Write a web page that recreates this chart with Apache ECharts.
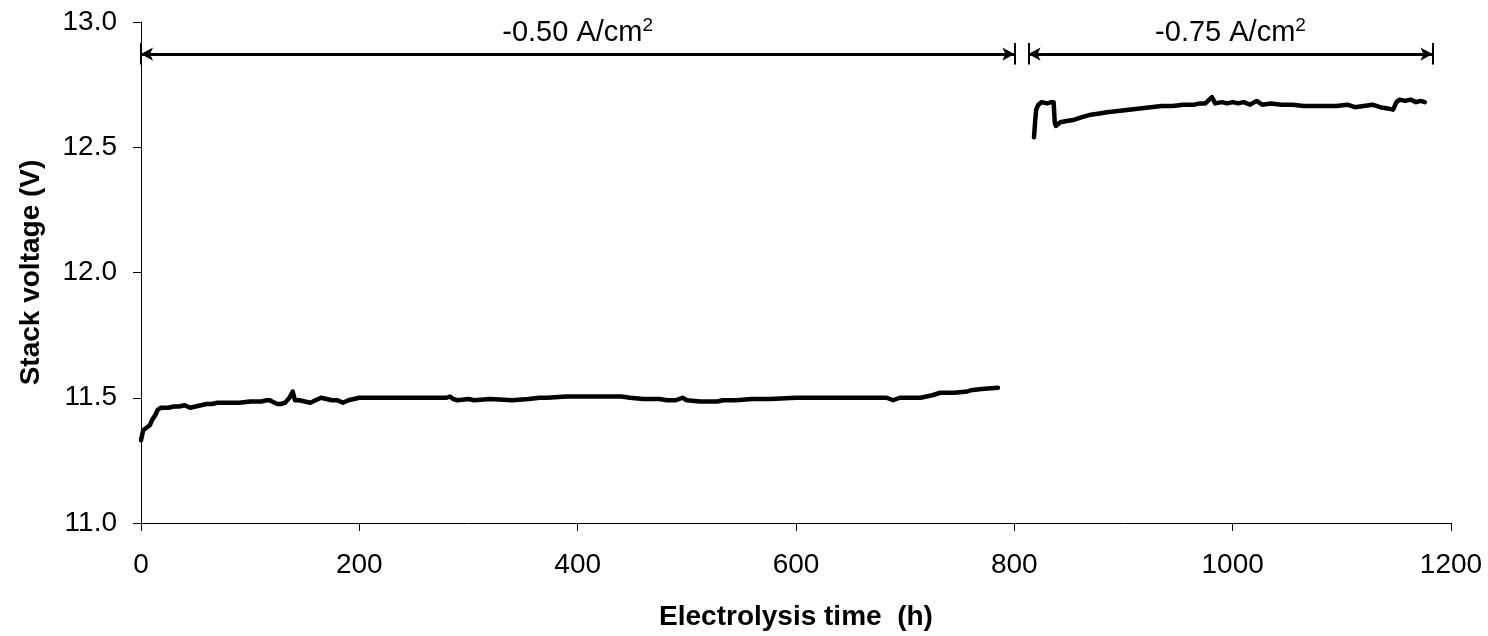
<!DOCTYPE html>
<html><head><meta charset="utf-8">
<script src="https://cdn.jsdelivr.net/npm/echarts@6/dist/echarts.min.js"></script>
<style>html,body{margin:0;padding:0;background:#fff}#c{width:1488px;height:636px}</style>
</head><body><div id="c"></div>
<script>
const time1 = [0,1,2,3,5,8,10,13,15,18,20,25,30,35,40,45,50,55,60,65,70,80,90,100,110,115,118,120,125,128,132,136,139,141,145,150,155,160,165,170,175,180,185,190,195,200,210,220,240,260,280,283,286,290,300,305,320,340,355,365,372,390,410,412,440,448,460,475,482,490,496,500,512,520,528,533,545,560,576,600,620,640,660,683,689,695,714,725,732,745,757,760,770,785];
const volt1 = [11.33,11.35,11.37,11.37,11.38,11.39,11.41,11.43,11.45,11.46,11.46,11.46,11.465,11.465,11.47,11.46,11.465,11.47,11.475,11.475,11.48,11.48,11.48,11.485,11.485,11.49,11.49,11.485,11.475,11.475,11.48,11.50,11.525,11.49,11.49,11.485,11.48,11.49,11.50,11.495,11.49,11.49,11.48,11.49,11.495,11.50,11.50,11.50,11.50,11.50,11.50,11.505,11.495,11.49,11.495,11.49,11.495,11.49,11.495,11.50,11.50,11.505,11.505,11.505,11.505,11.50,11.495,11.495,11.49,11.49,11.50,11.49,11.485,11.485,11.485,11.49,11.49,11.495,11.495,11.50,11.50,11.50,11.50,11.50,11.49,11.50,11.50,11.51,11.52,11.52,11.525,11.53,11.535,11.54];
const time2 = [818,819,820,822,825,830,834,836,837,838,842,848,855,862,870,878,885,895,905,915,925,935,945,955,965,970,975,981,984,990,995,1000,1005,1010,1016,1022,1027,1035,1045,1055,1065,1075,1085,1095,1105,1112,1120,1128,1135,1142,1147,1150,1153,1158,1163,1168,1172,1176];
const volt2 = [12.54,12.60,12.65,12.67,12.68,12.675,12.68,12.68,12.60,12.585,12.60,12.605,12.61,12.62,12.63,12.635,12.64,12.645,12.65,12.655,12.66,12.665,12.665,12.67,12.67,12.675,12.675,12.70,12.675,12.68,12.675,12.68,12.675,12.68,12.67,12.685,12.67,12.675,12.67,12.67,12.665,12.665,12.665,12.665,12.67,12.66,12.665,12.67,12.66,12.655,12.65,12.68,12.69,12.685,12.69,12.68,12.685,12.68];
const xTicks = {min: 0, max: 1200, interval: 200};
const yTicks = {min: 11, max: 13, interval: 0.5};
const periods = [{from: 0, to: 800, label: '-0.50 A/cm'}, {from: 813, to: 1183, label: '-0.75 A/cm'}];
const arrowY = 12.872, barTop = 12.916, barBot = 12.83, labelY = 12.955;

const zip = (a, b) => a.map((t, i) => [t, b[i]]);
const lineStyle = {color: '#000', width: 4.5, cap: 'round', join: 'round'};
const markLineData = [];
periods.forEach(p => {
  markLineData.push([{coord: [p.from, arrowY], symbol: 'arrow'}, {coord: [p.to, arrowY], symbol: 'arrow'}]);
  markLineData.push([{coord: [p.from, barTop], symbol: 'none', lineStyle: {width: 2}}, {coord: [p.from, barBot], symbol: 'none'}]);
  markLineData.push([{coord: [p.to, barTop], symbol: 'none', lineStyle: {width: 2}}, {coord: [p.to, barBot], symbol: 'none'}]);
});
const markPointData = periods.map(p => ({coord: [(p.from + p.to) / 2, labelY], value: p.label}));
const FONT = 'Liberation Sans';

const chart = echarts.init(document.getElementById('c'), null, {renderer: 'canvas'});
chart.setOption({
  animation: false,
  backgroundColor: '#fff',
  grid: {left: 141, right: 37, top: 22, bottom: 113},
  xAxis: {
    type: 'value', min: xTicks.min, max: xTicks.max, interval: xTicks.interval,
    name: 'Electrolysis time  (h)', nameLocation: 'middle', nameGap: 80,
    nameTextStyle: {fontFamily: FONT, fontSize: 28, fontWeight: 'bold', color: '#000'},
    axisLine: {lineStyle: {color: '#000', width: 1}},
    axisTick: {show: true, inside: false, length: 8, lineStyle: {color: '#000'}},
    axisLabel: {fontFamily: FONT, fontSize: 28, color: '#000', margin: 28, formatter: v => String(v)},
    splitLine: {show: false}
  },
  yAxis: {
    type: 'value', min: yTicks.min, max: yTicks.max, interval: yTicks.interval,
    name: 'Stack voltage (V)', nameLocation: 'middle', nameGap: 96,
    nameTextStyle: {fontFamily: FONT, fontSize: 28, fontWeight: 'bold', color: '#000'},
    axisLine: {show: true, lineStyle: {color: '#000', width: 1}},
    axisTick: {show: true, inside: false, length: 8, lineStyle: {color: '#000'}},
    axisLabel: {fontFamily: FONT, fontSize: 28, color: '#000', margin: 24, formatter: v => v.toFixed(1)},
    splitLine: {show: false}
  },
  series: [
    {type: 'line', data: zip(time1, volt1), showSymbol: false, lineStyle: lineStyle, itemStyle: {color: '#000'},
     markLine: {silent: true, symbolSize: [10, 12], lineStyle: {color: '#000', width: 3, type: 'solid'}, label: {show: false}, data: markLineData},
     markPoint: {silent: true, symbol: 'circle', symbolSize: 0, data: markPointData,
       label: {show: true, position: 'inside', formatter: p => '{a|' + p.value + '}{s|2}',
         rich: {a: {fontFamily: FONT, fontSize: 29, color: '#000'}, s: {fontFamily: FONT, fontSize: 19, color: '#000', padding: [0, 0, 15, 0]}}}}
    },
    {type: 'line', data: zip(time2, volt2), showSymbol: false, lineStyle: lineStyle, itemStyle: {color: '#000'}}
  ]
});
</script></body></html>
